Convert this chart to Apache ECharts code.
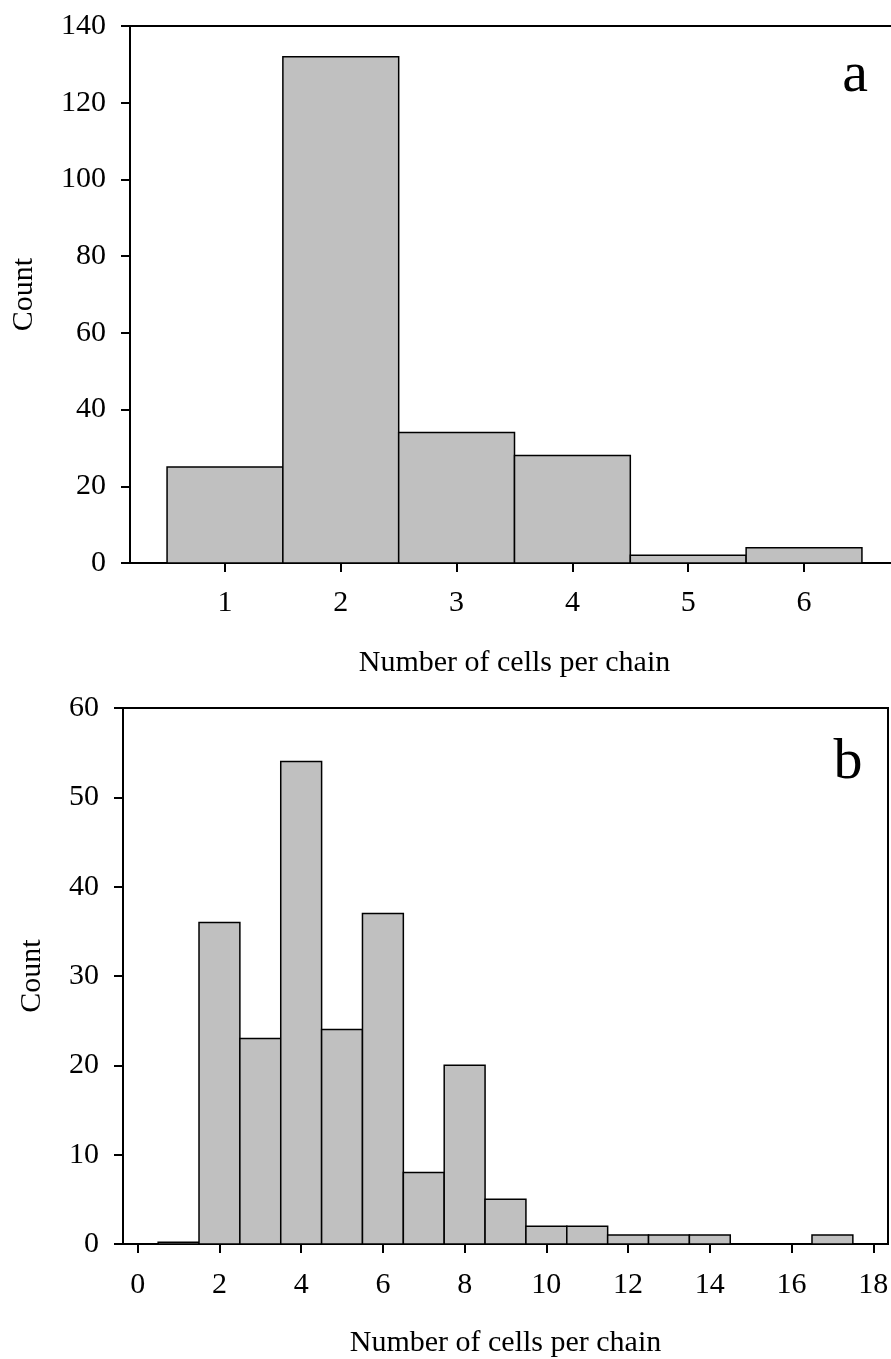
<!DOCTYPE html>
<html>
<head>
<meta charset="utf-8">
<script src="https://cdn.jsdelivr.net/npm/echarts@6/dist/echarts.min.js"></script>
<style>
html,body{margin:0;padding:0;background:#fff;}
#chart{width:891px;height:1359px;}
</style>
</head>
<body>
<div id="chart"></div>
<script>
// Panel a
const binsA = [1, 2, 3, 4, 5, 6];
const countsA = [25, 132, 34, 28, 2, 4];
const xTicksA = [1, 2, 3, 4, 5, 6];
// Panel b
const binsB = [1, 2, 3, 4, 5, 6, 7, 8, 9, 10, 11, 12, 13, 14, 15, 16, 17];
const countsB = [0.2, 36, 23, 54, 24, 37, 8, 20, 5, 2, 2, 1, 1, 1, 0, 0, 1];
const xTicksB = [0, 2, 4, 6, 8, 10, 12, 14, 16, 18];

const FONT = "'Liberation Serif', 'Times New Roman', serif";

const chart = echarts.init(document.getElementById('chart'), null, {renderer: 'canvas'});

function renderBin(params, api) {
  const x = api.value(0), y = api.value(1);
  const p0 = api.coord([x - 0.5, y]);
  const p1 = api.coord([x + 0.5, 0]);
  return {
    type: 'rect',
    shape: {x: p0[0], y: p0[1], width: p1[0] - p0[0], height: p1[1] - p0[1]},
    style: {fill: '#c0c0c0', stroke: '#000', lineWidth: 1.5}
  };
}

const axisLineStyle = {show: true, onZero: false, lineStyle: {color: '#000', width: 2}};
const tickStyle = {show: true, inside: false, length: 9, lineStyle: {color: '#000', width: 2}};
const labelStyle = {color: '#000', fontFamily: FONT, fontSize: 30};
const nameStyle = {color: '#000', fontFamily: FONT, fontSize: 30};

const option = {
  animation: false,
  backgroundColor: '#fff',
  grid: [
    {left: 130, top: 26, width: 769, height: 537, show: true, borderColor: '#000', borderWidth: 2, backgroundColor: 'transparent', containLabel: false, outerBoundsMode: 'none'},
    {left: 123, top: 708, width: 765, height: 536, show: true, borderColor: '#000', borderWidth: 2, backgroundColor: 'transparent', containLabel: false, outerBoundsMode: 'none'}
  ],
  xAxis: [
    {
      type: 'value', gridIndex: 0, min: 0.18, max: 6.82,
      axisLine: axisLineStyle,
      axisTick: Object.assign({}, tickStyle, {customValues: xTicksA}),
      axisLabel: Object.assign({}, labelStyle, {margin: 25, customValues: xTicksA}),
      splitLine: {show: false},
      name: 'Number of cells per chain', nameLocation: 'middle', nameGap: 85, nameTextStyle: nameStyle
    },
    {
      type: 'value', gridIndex: 1, min: -0.36, max: 18.36,
      axisLine: axisLineStyle,
      axisTick: Object.assign({}, tickStyle, {customValues: xTicksB}),
      axisLabel: Object.assign({}, labelStyle, {margin: 26, customValues: xTicksB}),
      splitLine: {show: false},
      name: 'Number of cells per chain', nameLocation: 'middle', nameGap: 84, nameTextStyle: nameStyle
    }
  ],
  yAxis: [
    {
      type: 'value', gridIndex: 0, min: 0, max: 140, interval: 20,
      axisLine: axisLineStyle,
      axisTick: tickStyle,
      axisLabel: Object.assign({}, labelStyle, {margin: 24}),
      splitLine: {show: false},
      name: 'Count', nameLocation: 'middle', nameGap: 91, nameRotate: 90, nameTextStyle: nameStyle
    },
    {
      type: 'value', gridIndex: 1, min: 0, max: 60, interval: 10,
      axisLine: axisLineStyle,
      axisTick: tickStyle,
      axisLabel: Object.assign({}, labelStyle, {margin: 24}),
      splitLine: {show: false},
      name: 'Count', nameLocation: 'middle', nameGap: 76, nameRotate: 90, nameTextStyle: nameStyle
    }
  ],
  series: [
    {
      type: 'custom', xAxisIndex: 0, yAxisIndex: 0, renderItem: renderBin,
      data: binsA.map((b, i) => [b, countsA[i]]), z: 1
    },
    {
      type: 'custom', xAxisIndex: 1, yAxisIndex: 1, renderItem: renderBin,
      data: binsB.map((b, i) => [b, countsB[i]]), z: 1
    }
  ],
  graphic: [
    {type: 'text', x: 855, y: 76, style: {text: 'a', fontFamily: FONT, fontSize: 58, fill: '#000', textAlign: 'center', textVerticalAlign: 'middle'}},
    {type: 'text', x: 848, y: 763, style: {text: 'b', fontFamily: FONT, fontSize: 58, fill: '#000', textAlign: 'center', textVerticalAlign: 'middle'}}
  ]
};
chart.setOption(option);
</script>
</body>
</html>
